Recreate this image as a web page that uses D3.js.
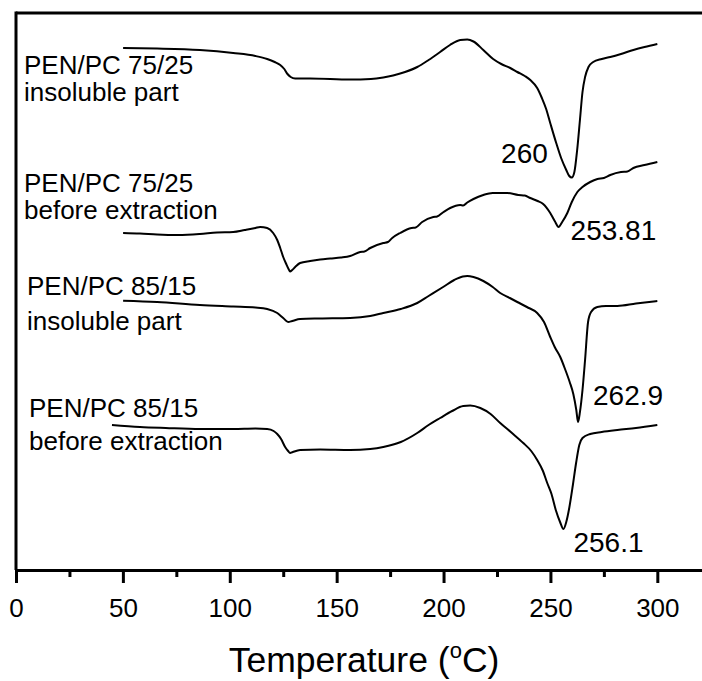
<!DOCTYPE html>
<html>
<head>
<meta charset="utf-8">
<script src="https://cdn.jsdelivr.net/npm/d3@7"></script>
<style>
  html, body { margin: 0; padding: 0; background: #fff; }
  svg { display: block; }
  text { font-family: "Liberation Sans", Arial, Helvetica, sans-serif; fill: #000; }
</style>
</head>
<body>
<svg id="chart" width="702" height="681"></svg>
<script>
// DSC heating scans, temperature in °C vs. heat flow (arbitrary units, curves offset)
const majorTicks = [0, 50, 100, 150, 200, 250, 300];
const minorTicks = [25, 75, 125, 175, 225, 275];
const xTitle = "Temperature (";
const xUnit = "C)";

const curveNames = [
  ["PEN/PC 75/25", "insoluble part"],
  ["PEN/PC 75/25", "before extraction"],
  ["PEN/PC 85/15", "insoluble part"],
  ["PEN/PC 85/15", "before extraction"]
];

const meltPeaks = [260, 253.81, 262.9, 256.1];
const peakLabels = ["260", "253.81", "262.9", "256.1"];

// [temperature, heat flow]
const pc7525Insoluble = [
  [50.1, 522], [66, 521.5], [86, 520], [101.6, 517], [112, 514], [117.5, 511],
  [121, 508], [123.6, 505], [125.5, 501], [127, 496], [128.5, 493], [130.6, 491.5],
  [137.6, 491.5], [156.3, 490.5], [166, 491], [171.8, 492.5], [176.4, 494.5],
  [182, 498], [187.7, 503], [193, 510], [198.4, 518], [203, 525], [207.8, 530],
  [211.1, 530.5], [214, 528.5], [218.6, 520], [223.2, 511], [227, 506], [231.2, 502],
  [234.5, 498], [238, 494], [240.6, 490], [243.8, 482], [246, 472], [248, 461],
  [249.9, 447], [252.7, 427], [255, 412], [257.4, 400], [258.8, 394], [260, 392.5],
  [261.2, 398], [262.5, 420], [263.8, 450], [265, 478], [266.2, 493], [267.8, 503],
  [270, 508], [274, 511], [278, 513], [283, 516], [288.8, 520], [294, 523], [300, 526]
];

const pc7525Before = [
  [50.1, 337], [58, 336.5], [66, 335.5], [76, 335], [86, 336], [94, 337.5],
  [101.6, 338], [107, 340], [112, 342], [114.2, 343], [117.5, 342], [120.3, 337],
  [122.2, 330], [123.6, 322], [125, 313], [126.4, 306], [127.5, 301], [128.2, 298.5],
  [129.2, 300], [130.6, 303], [132.9, 307], [137.6, 309], [142.3, 310.5],
  [147, 311.5], [152, 312.5], [156.3, 314], [161, 318], [163, 318.5], [165.7, 322],
  [171.8, 327], [174, 328], [176, 332], [179.7, 337], [185, 342], [187, 342.5],
  [190, 348], [195.2, 353], [197, 353.5], [200, 358], [203.1, 362], [207.8, 365],
  [209.2, 364.5], [211.1, 367.5], [214, 371], [218.6, 375], [223, 377], [229.8, 377],
  [235, 375], [238, 374.5], [240.6, 372], [244, 369], [246.6, 366], [249.9, 357],
  [252, 349], [253.81, 343], [255.5, 348], [257.9, 357], [260, 368], [262.6, 378],
  [265, 383], [268.6, 388], [272, 391], [275, 392], [278, 395], [283, 398],
  [286, 398.5], [288.8, 402], [294, 405], [300, 408]
];

const pc8515Insoluble = [
  [50.1, 269.3], [66, 268], [86, 265], [101.6, 263.5], [112, 262.5], [117.5, 261],
  [122.2, 257], [125, 252], [127.3, 248], [129.2, 249], [132.9, 251], [142.3, 251.5],
  [156.3, 252], [165.7, 254], [171.8, 257], [180, 261], [187.7, 267], [193, 274],
  [199.8, 283], [205, 290], [209, 293.5], [211.1, 294], [214, 293], [218.6, 289],
  [223, 283], [226.5, 277], [231, 272], [234.5, 268], [239, 263], [243.8, 257],
  [247, 248], [249.9, 233], [252, 223], [254.6, 213], [257, 200], [259, 188],
  [260.7, 176], [262.1, 160], [262.9, 148], [263.8, 158], [265, 180], [266.2, 210],
  [267.6, 248], [269, 258], [271.9, 263], [276, 264], [281.3, 264], [290, 266.5],
  [300, 269]
];

const pc8515Before = [
  [44.9, 145], [58, 143], [70, 142], [86.1, 141], [101.6, 141], [112, 141.5],
  [117.5, 141], [120.5, 139], [122.2, 136], [124, 131], [125.9, 123], [127.3, 119],
  [128.2, 117], [129.5, 118], [132.9, 120], [142.3, 120.5], [156.3, 120], [165.7, 121],
  [171.8, 123], [180, 128], [187.7, 137], [193, 145], [198.4, 152], [204, 159],
  [209.2, 164], [212.5, 164.5], [217.2, 162], [222, 156], [226.5, 147], [232, 137],
  [237.3, 127], [241, 119], [243.8, 110], [246.5, 99], [248.5, 87], [250.5, 76],
  [252.5, 60], [254.5, 48], [256.1, 41], [257.4, 48], [258.8, 62], [260.5, 85],
  [262, 107], [263.5, 125], [265, 132], [268.6, 136], [274, 138], [281.3, 140],
  [290, 142], [300, 145]
];

const series = [pc7525Insoluble, pc7525Before, pc8515Insoluble, pc8515Before];

const svg = d3.select("#chart");
const W = 702, H = 681;
const plotLeft = 16, plotTop = 13, plotBottom = 570;

// x range runs past the right edge so the frame stays open on that side
const x = d3.scaleLinear().domain([0, 320.9]).range([plotLeft, W]);
const y = d3.scaleLinear().domain([0, 557]).range([plotBottom, plotTop]);

// frame: top and left edges
svg.append("line")
  .attr("x1", plotLeft).attr("x2", W).attr("y1", plotTop).attr("y2", plotTop)
  .attr("stroke", "#000").attr("stroke-width", 3);
svg.append("line")
  .attr("x1", plotLeft).attr("x2", plotLeft).attr("y1", plotTop - 1.5).attr("y2", plotBottom)
  .attr("stroke", "#000").attr("stroke-width", 3);

// bottom axis with major ticks
const axis = svg.append("g")
  .attr("transform", `translate(0,${plotBottom})`)
  .call(d3.axisBottom(x).tickValues(majorTicks).tickSize(13).tickSizeOuter(0).tickPadding(16));
axis.select(".domain").attr("stroke-width", 3);
axis.selectAll(".tick line").attr("stroke-width", 3);
axis.selectAll(".tick text")
  .attr("font-size", 26)
  .attr("font-family", "Liberation Sans, Arial, sans-serif");

// minor ticks
svg.append("g")
  .attr("transform", `translate(0,${plotBottom})`)
  .call(d3.axisBottom(x).tickValues(minorTicks).tickSize(7).tickSizeOuter(0).tickFormat(""))
  .call(g => g.select(".domain").remove())
  .selectAll(".tick line").attr("stroke-width", 3);

// axis title with superscript degree
const title = svg.append("text")
  .attr("x", 364).attr("y", 672)
  .attr("text-anchor", "middle")
  .attr("font-size", 35.5);
title.append("tspan").text(xTitle);
title.append("tspan").attr("font-size", 22).attr("dy", -14).text("o");
title.append("tspan").attr("dy", 14).text(xUnit);

// traces
const line = d3.line()
  .x(d => x(d[0]))
  .y(d => y(d[1]))
  .curve(d3.curveMonotoneX);

svg.append("g").selectAll("path")
  .data(series)
  .join("path")
  .attr("d", line)
  .attr("fill", "none")
  .attr("stroke", "#000")
  .attr("stroke-width", 2)
  .attr("stroke-linejoin", "round");

// sample names
const nameRows = [[74, 101], [192, 219], [295, 330], [417, 450]];
const nameX = [24, 24, 27, 29];
curveNames.forEach((lines, i) => {
  lines.forEach((t, j) => {
    svg.append("text")
      .attr("x", nameX[i]).attr("y", nameRows[i][j])
      .attr("font-size", 26)
      .text(t);
  });
});

// melting peak annotations
const peakOffsets = [
  { dx: -24, dy: -15, anchor: "end" },
  { dx: 12, dy: 13, anchor: "start" },
  { dx: 15, dy: -17, anchor: "start" },
  { dx: 10, dy: 23, anchor: "start" }
];
series.forEach((s, i) => {
  const p = s.find(d => d[0] === meltPeaks[i]);
  const o = peakOffsets[i];
  svg.append("text")
    .attr("x", x(p[0]) + o.dx)
    .attr("y", y(p[1]) + o.dy)
    .attr("text-anchor", o.anchor)
    .attr("font-size", 28)
    .text(peakLabels[i]);
});
</script>
</body>
</html>
